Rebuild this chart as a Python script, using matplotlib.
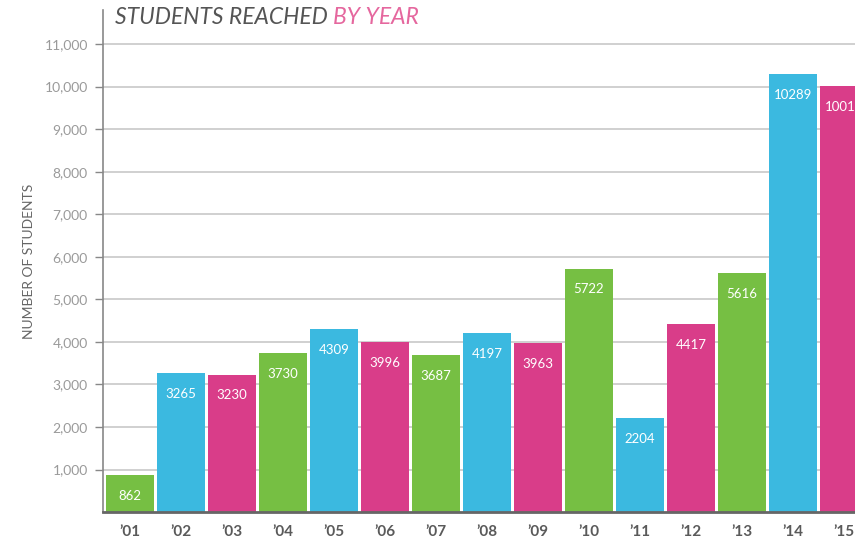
import matplotlib.pyplot as plt
from matplotlib.ticker import FuncFormatter

plt.rcParams['font.family'] = ['Lato', 'DejaVu Sans']

# data
years = ["’01", "’02", "’03", "’04", "’05", "’06", "’07", "’08",
         "’09", "’10", "’11", "’12", "’13", "’14", "’15"]
students = [862, 3265, 3230, 3730, 4309, 3996, 3687, 4197,
            3963, 5722, 2204, 4417, 5616, 10289, 10014]

palette = ["#76BF43", "#3BB9E0", "#D93D89"]
colors = [palette[i % 3] for i in range(len(years))]

fig = plt.figure(figsize=(8.55, 5.39), dpi=100)
ax = fig.add_axes([0.1205, 0.05, 0.8795, 0.9314])

x = list(range(len(years)))
ax.bar(x, students, width=0.94, color=colors, zorder=2)

for xi, v in zip(x, students):
    ax.annotate(str(v), (xi, v), xytext=(0, -15), textcoords="offset points",
                ha="center", va="center", color="white", fontsize=9.5,
                annotation_clip=False, zorder=3)

ax.set_xlim(-0.53, 14.22)
ax.set_ylim(0, 11800)
ax.set_yticks(range(1000, 12000, 1000))
ax.yaxis.set_major_formatter(FuncFormatter(lambda v, p: f"{int(v):,}"))
ax.grid(axis="y", color="#c8c8c8", linewidth=1.2, zorder=0)

ax.set_xticks(x)
ax.set_xticklabels(years, fontsize=11, fontweight="bold", color="#5a5a5a")
ax.tick_params(axis="x", length=0, pad=9)
ax.tick_params(axis="y", length=6, width=1, color="#888888",
               labelcolor="#9a9a9a", labelsize=10, pad=5)

for s in ["top", "right"]:
    ax.spines[s].set_visible(False)
ax.spines["left"].set_color("#888888")
ax.spines["left"].set_linewidth(1.2)
ax.spines["bottom"].set_color("#666666")
ax.spines["bottom"].set_linewidth(2)

ax.set_ylabel("NUMBER OF STUDENTS", color="#666666", fontsize=10, labelpad=7)

t1 = fig.text(0.134, 0.968, "STUDENTS REACHED ", fontsize=16.5, style="italic",
              color="#555555", va="center")
fig.canvas.draw()
bb = t1.get_window_extent().transformed(fig.transFigure.inverted())
fig.text(bb.x1, 0.968, "BY YEAR", fontsize=16.5, style="italic",
         color="#E5679E", va="center")

fig.savefig("out.png", dpi=100)
